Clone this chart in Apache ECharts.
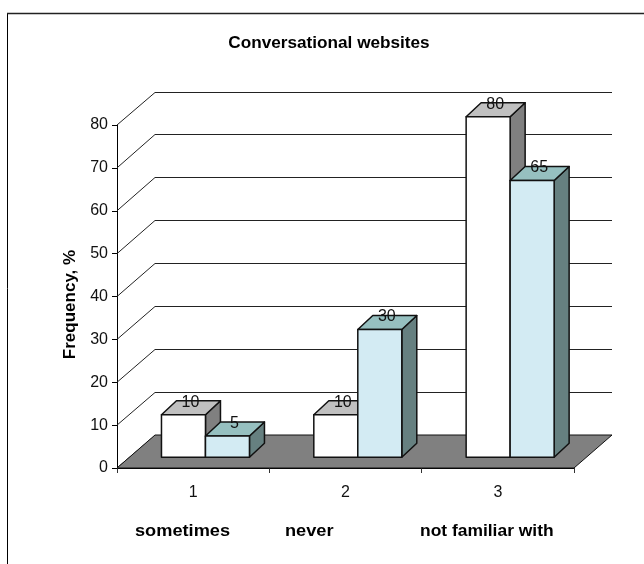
<!DOCTYPE html>
<html>
<head>
<meta charset="utf-8">
<style>html,body{margin:0;padding:0;background:#fff}#chart{width:644px;height:564px}</style>
<script src="https://cdn.jsdelivr.net/npm/echarts@6/dist/echarts.min.js"></script>
</head>
<body>
<div id="chart"></div>
<script>
// Survey answers, percent of respondents
const categories = ['1', '2', '3'];
const firstGroup = [10, 10, 80];
const secondGroup = [5, 30, 65];
const wallTicks = [0, 10, 20, 30, 40, 50, 60, 70, 80];
const answerLabels = ['sometimes', 'never', 'not familiar with'];

// Oblique projection: how far the back wall and the bars recede
const WALL_DX = 38, WALL_DY = -33;
const BAR_INSET_DX = 12.3, BAR_INSET_DY = -10.7;
const BAR_DX = 15, BAR_DY = -14;
const BAR_DEPTH_SCALE = 0.993;
const FONT = '"Liberation Sans", Arial, sans-serif';

const chart = echarts.init(document.getElementById('chart'), null, { renderer: 'canvas' });

function crisp(v) { return Math.round(v - 0.5) + 0.5; }

// Back wall: one slanted segment and one horizontal line for every tick
function renderWall(params, api) {
  const p = api.coord([0, api.value(1)]);
  const band = api.size([1, 0])[0];
  const left = p[0] - band / 2, y = p[1];
  const right = left + band * categories.length;
  return {
    type: 'polyline',
    shape: { points: [[left, y], [left + WALL_DX, crisp(y + WALL_DY)], [right + WALL_DX, crisp(y + WALL_DY)]] },
    style: { stroke: '#222', lineWidth: 1, fill: null }
  };
}

// Floor parallelogram below the bars
function renderFloor(params, api) {
  const p = api.coord([0, 0]);
  const band = api.size([1, 0])[0];
  const left = p[0] - band / 2, y = p[1];
  const right = left + band * categories.length;
  return {
    type: 'polygon',
    shape: { points: [[left, y], [right, y], [right + WALL_DX, y + WALL_DY], [left + WALL_DX, y + WALL_DY]] },
    style: { fill: '#808080', stroke: '#111', lineWidth: 1 }
  };
}

// One 3D box; side selects which half of the category it occupies
function boxRenderer(side, colors) {
  return function (params, api) {
    const value = api.value(1);
    const top = api.coord([api.value(0), value]);
    const base = api.coord([api.value(0), 0]);
    const w = api.size([1, 0])[0] * 0.2888;
    const x0 = top[0] + (side === 0 ? -w : 0) + BAR_INSET_DX;
    const x1 = x0 + w;
    const y0 = base[1] + BAR_INSET_DY;
    const y1 = y0 - (base[1] - top[1]) * BAR_DEPTH_SCALE;
    const edge = { stroke: '#111', lineWidth: 1.5, lineJoin: 'round' };
    return {
      type: 'group',
      children: [
        { type: 'polygon', shape: { points: [[x1, y0], [x1 + BAR_DX, y0 + BAR_DY], [x1 + BAR_DX, y1 + BAR_DY], [x1, y1]] }, style: Object.assign({ fill: colors.side }, edge) },
        { type: 'polygon', shape: { points: [[x0, y1], [x1, y1], [x1 + BAR_DX, y1 + BAR_DY], [x0 + BAR_DX, y1 + BAR_DY]] }, style: Object.assign({ fill: colors.top }, edge) },
        { type: 'rect', shape: { x: x0, y: y1, width: w, height: y0 - y1 }, style: Object.assign({ fill: colors.front }, edge) },
        { type: 'text', style: { text: String(value), x: (x0 + x1) / 2 + 7, y: y1 + BAR_DY + 1.5, align: 'center', verticalAlign: 'middle', font: '16px ' + FONT, fill: '#111' } }
      ]
    };
  };
}

const pairs = values => values.map((v, i) => [i, v]);

chart.setOption({
  animation: false,
  grid: { left: 117, right: 70, top: 125, bottom: 96, containLabel: false },
  xAxis: {
    type: 'category',
    data: categories,
    axisLine: { lineStyle: { color: '#000', width: 1 } },
    axisTick: { show: true, length: 5, lineStyle: { color: '#333' } },
    axisLabel: { margin: 17, fontFamily: FONT, fontSize: 16, color: '#111' },
    splitLine: { show: false }
  },
  yAxis: {
    type: 'value',
    min: 0, max: 80, interval: 10,
    name: 'Frequency, %',
    nameLocation: 'middle',
    nameRotate: 90,
    nameGap: 37,
    nameTextStyle: { fontFamily: FONT, fontWeight: 'bold', fontSize: 17, color: '#000', padding: [0, 16, 0, 0] },
    axisLine: { show: true, lineStyle: { color: '#000', width: 1 } },
    axisTick: { show: true, length: 5, lineStyle: { color: '#000' } },
    axisLabel: { margin: 9, fontFamily: FONT, fontSize: 16, color: '#111', padding: [5, 0, 0, 0] },
    splitLine: { show: false }
  },
  graphic: [
    { type: 'line', shape: { x1: 7.5, y1: 13, x2: 7.5, y2: 564 }, style: { stroke: '#000', lineWidth: 1 } },
    { type: 'line', shape: { x1: 7, y1: 13.5, x2: 644, y2: 13.5 }, style: { stroke: '#222', lineWidth: 1.5 } },
    { type: 'text', x: 329, y: 43, scaleX: 1.01, style: { text: 'Conversational websites', align: 'center', verticalAlign: 'middle', font: 'bold 17px ' + FONT, fill: '#000' } },
    { type: 'text', x: 135, y: 531.5, scaleX: 1.07, style: { text: answerLabels[0], verticalAlign: 'middle', font: 'bold 17px ' + FONT, fill: '#000' } },
    { type: 'text', x: 285, y: 531.5, scaleX: 1.07, style: { text: answerLabels[1], verticalAlign: 'middle', font: 'bold 17px ' + FONT, fill: '#000' } },
    { type: 'text', x: 420, y: 531.5, scaleX: 1.025, style: { text: answerLabels[2], verticalAlign: 'middle', font: 'bold 17px ' + FONT, fill: '#000' } }
  ],
  series: [
    { type: 'custom', name: 'wall', z: 1, silent: true, clip: false, renderItem: renderWall, encode: { x: 0, y: 1 }, data: wallTicks.map(v => [0, v]) },
    { type: 'custom', name: 'floor', z: 2, silent: true, clip: false, renderItem: renderFloor, encode: { x: 0, y: 1 }, data: [[0, 0]] },
    { type: 'custom', name: 'first', z: 3, clip: false, renderItem: boxRenderer(0, { front: '#ffffff', top: '#c0c0c0', side: '#808080' }), encode: { x: 0, y: 1 }, data: pairs(firstGroup) },
    { type: 'custom', name: 'second', z: 4, clip: false, renderItem: boxRenderer(1, { front: '#d3ebf3', top: '#96c0c0', side: '#668080' }), encode: { x: 0, y: 1 }, data: pairs(secondGroup) }
  ]
});
</script>
</body>
</html>
